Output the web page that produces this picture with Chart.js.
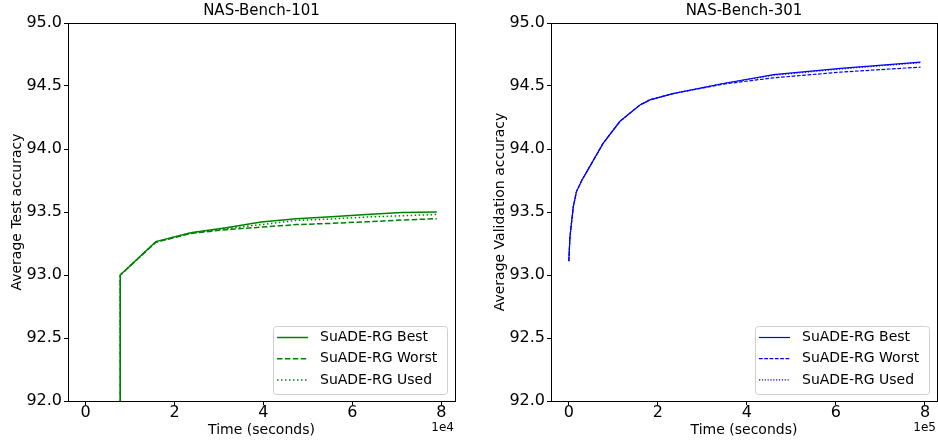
<!DOCTYPE html>
<html lang="en">
  <head>
    <meta charset="UTF-8" />
    <script src="https://cdn.jsdelivr.net/npm/chart.js"></script>
    <title>SuADE-RG</title>
    <style>
      body { margin: 0; background: #fff; }
      #wrap { position: relative; width: 938px; height: 443px; }
      canvas { position: absolute; top: 0; }
    </style>
  </head>
  <body>
    <div id="wrap">
      <canvas id="nb101" width="469" height="443" style="left:0"></canvas>
      <canvas id="nb301" width="469" height="443" style="left:469px"></canvas>
    </div>

    <script>
      // NAS-Bench-101 (time in seconds)
      const nb101Time  = [0, 7800, 7800, 15800, 23700, 31600, 39500, 47400, 55300, 63200, 71100, 79000];
      const nb101Best  = [91.0, 91.0, 93.0, 93.265, 93.335, 93.375, 93.42, 93.447, 93.462, 93.48, 93.496, 93.50];
      const nb101Worst = [91.0, 91.0, 93.0, 93.26, 93.33, 93.36, 93.38, 93.40, 93.41, 93.422, 93.436, 93.447];
      const nb101Used  = [91.0, 91.0, 93.0, 93.262, 93.335, 93.367, 93.40, 93.433, 93.445, 93.46, 93.47, 93.48];

      // NAS-Bench-301
      const nb301Time  = [0, 2500, 10000, 17000, 29000, 47000, 77000, 115000, 160000, 182000, 234000, 347000, 460000, 610000, 790000];
      const nb301Best  = [93.11, 93.3, 93.54, 93.66, 93.75, 93.86, 94.045, 94.22, 94.35, 94.39, 94.44, 94.52, 94.59, 94.64, 94.69];
      const nb301Worst = [93.11, 93.3, 93.54, 93.66, 93.75, 93.86, 94.045, 94.22, 94.35, 94.39, 94.44, 94.515, 94.565, 94.61, 94.65];
      const nb301Used  = [93.11, 93.3, 93.54, 93.66, 93.75, 93.86, 94.045, 94.22, 94.35, 94.39, 94.44, 94.52, 94.585, 94.635, 94.685];

      const seriesNames = ["SuADE-RG Best", "SuADE-RG Worst", "SuADE-RG Used"];
      const xTickLabels = [0, 2, 4, 6, 8];
      const yTickLabels = [92.0, 92.5, 93.0, 93.5, 94.0, 94.5, 95.0];

      Chart.defaults.font.family = "'DejaVu Sans', sans-serif";
      Chart.defaults.color = "#000";

      // box around the axes, inside legend, and the "1e4" offset text
      const framePlugin = {
        id: "frame",
        afterDraw(chart, args, opts) {
          const ctx = chart.ctx;
          const a = chart.chartArea;
          const l = Math.round(a.left), t = Math.round(a.top);
          const r = Math.round(a.right), b = Math.round(a.bottom);
          ctx.save();
          ctx.strokeStyle = "#000";
          ctx.lineWidth = 1;
          ctx.strokeRect(l + 0.5, t + 0.5, r - l, b - t);

          // legend
          const bw = 174, bh = 68;
          const bx = r - 8 - bw, by = b - 7 - bh;
          ctx.beginPath();
          ctx.roundRect(bx + 0.5, by + 0.5, bw, bh, 3);
          ctx.fillStyle = "rgba(255,255,255,0.8)";
          ctx.fill();
          ctx.strokeStyle = "#d0d0d0";
          ctx.stroke();
          ctx.font = "14px 'DejaVu Sans'";
          ctx.textBaseline = "middle";
          ctx.textAlign = "left";
          chart.data.datasets.forEach((ds, i) => {
            const y = by + 11.5 + i * 21.2;
            ctx.beginPath();
            ctx.setLineDash(ds.borderDash || []);
            ctx.strokeStyle = ds.borderColor;
            ctx.lineWidth = ds.borderWidth;
            ctx.moveTo(bx + 4, y);
            ctx.lineTo(bx + 35, y);
            ctx.stroke();
            ctx.setLineDash([]);
            ctx.fillStyle = "#000";
            ctx.fillText(ds.label, bx + 47, y);
          });

          // axis offset text
          ctx.font = "12px 'DejaVu Sans'";
          ctx.textAlign = "right";
          ctx.fillText(opts.exponent, r - 1, b + 27);
          ctx.restore();
        },
      };

      function makeChart(id, cfg) {
        const exp = cfg.exp;
        const mk = (vals, i) => ({
          label: seriesNames[i],
          data: cfg.time.map((t, k) => ({ x: t, y: vals[k] })),
          borderColor: cfg.color,
          borderWidth: cfg.lw,
          borderDash: cfg.dashes[i],
          pointRadius: 0,
          tension: 0,
          fill: false,
        });
        return new Chart(document.getElementById(id), {
          type: "line",
          data: { datasets: cfg.series.map(mk) },
          plugins: [framePlugin],
          options: {
            responsive: false,
            animation: false,
            layout: { padding: { left: 0, right: cfg.padRight, top: 0, bottom: 0 } },
            scales: {
              x: {
                type: "linear",
                min: cfg.xMin,
                max: cfg.xMax,
                afterBuildTicks: (s) => { s.ticks = xTickLabels.map((v) => ({ value: v * exp })); },
                afterFit: (s) => { s.height = 42; },
                ticks: { callback: (v) => String(v / exp), font: { size: 16 }, padding: -2, autoSkip: false, maxRotation: 0 },
                grid: { drawOnChartArea: false, color: "#000", tickLength: 4 },
                border: { display: false },
                title: { display: true, text: "Time (seconds)", font: { size: 14 }, padding: { top: 0, bottom: 4 } },
              },
              y: {
                min: 92,
                max: 95,
                afterBuildTicks: (s) => { s.ticks = yTickLabels.map((v) => ({ value: v })); },
                afterFit: (s) => { s.width = cfg.yWidth; },
                ticks: { callback: (v) => v.toFixed(1), font: { size: 16 }, padding: 2, autoSkip: false },
                grid: { drawOnChartArea: false, color: "#000", tickLength: 4 },
                border: { display: false },
                title: { display: true, text: cfg.yTitle, font: { size: 14 }, padding: { top: cfg.yTitlePad, bottom: 0 } },
              },
            },
            plugins: {
              legend: { display: false },
              tooltip: { enabled: false },
              title: {
                display: true,
                text: cfg.title,
                fullSize: false,
                color: "#000",
                font: { size: 15, weight: "normal" },
                padding: { top: 2, bottom: 3 },
              },
              frame: { exponent: cfg.expText },
            },
          },
        });
      }

      makeChart("nb101", {
        title: "NAS-Bench-101",
        yTitle: "Average Test accuracy",
        time: nb101Time,
        series: [nb101Best, nb101Worst, nb101Used],
        color: "#008000",
        lw: 1.5,
        dashes: [[], [5.5, 2.4], [1.5, 2.5]],
        exp: 1e4,
        expText: "1e4",
        xMin: -3960,
        xMax: 83100,
        yWidth: 68,
        yTitlePad: 9,
        padRight: 14,
      });

      makeChart("nb301", {
        title: "NAS-Bench-301",
        yTitle: "Average Validation accuracy",
        time: nb301Time,
        series: [nb301Best, nb301Worst, nb301Used],
        color: "#0000ff",
        lw: 1.2,
        dashes: [[], [3.7, 1.6], [1.2, 1.65]],
        exp: 1e5,
        expText: "1e5",
        xMin: -40000,
        xMax: 827000,
        yWidth: 82,
        yTitlePad: 23,
        padRight: 1,
      });
    </script>
  </body>
</html>
